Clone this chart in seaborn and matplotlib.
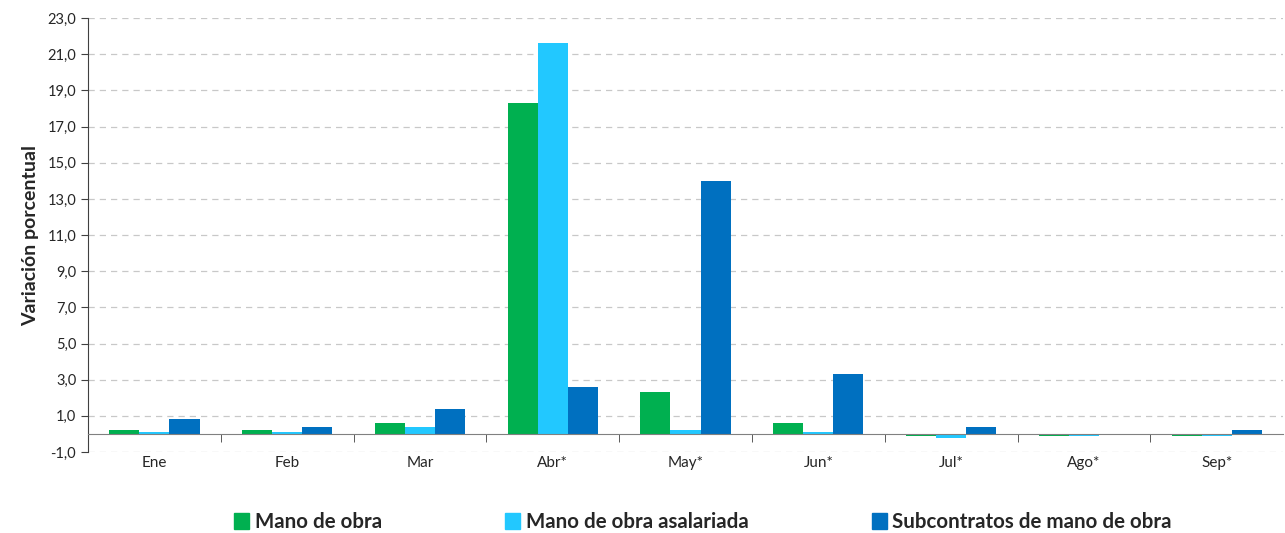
import pandas as pd
import numpy as np
import seaborn as sns
import matplotlib.pyplot as plt
import matplotlib.ticker as mticker

meses = ['Ene', 'Feb', 'Mar', 'Abr*', 'May*', 'Jun*', 'Jul*', 'Ago*', 'Sep*']
mano_obra = [0.2, 0.2, 0.6, 18.3, 2.3, 0.6, -0.1, -0.1, -0.1]
mano_obra_asal = [0.1, 0.1, 0.4, 21.6, 0.2, 0.1, -0.2, -0.1, -0.1]
subcontratos = [0.8, 0.4, 1.4, 2.6, 14.0, 3.3, 0.4, 0.0, 0.2]

series = ['Mano de obra', 'Mano de obra asalariada', 'Subcontratos de mano de obra']
colores = ['#00B050', '#22C8FF', '#0070C0']

df = pd.DataFrame({
    'Mes': meses * 3,
    'Serie': [series[0]] * 9 + [series[1]] * 9 + [series[2]] * 9,
    'Valor': mano_obra + mano_obra_asal + subcontratos,
})

sns.set_style('white')
plt.rcParams['font.family'] = ['Lato', 'DejaVu Sans']

fig = plt.figure(figsize=(12.85, 5.33), dpi=100)
ax = fig.add_axes([0.0685, 0.152, 0.93, 0.814])

sns.barplot(data=df, x='Mes', y='Valor', hue='Serie', hue_order=series,
            palette=colores, width=0.68, saturation=1, linewidth=0, ax=ax, legend=True)

ax.set_ylim(-1, 23)
ax.set_xlim(-0.5, 8.5)
ax.yaxis.set_major_locator(mticker.FixedLocator(np.arange(-1, 24, 2)))
ax.yaxis.set_major_formatter(mticker.FuncFormatter(lambda v, p: f'{v:.1f}'.replace('.', ',')))
ax.grid(axis='y', linestyle=(0, (5, 4)), color='#c8c8c8', linewidth=0.9)
ax.set_axisbelow(True)

for s in ['top', 'right']:
    ax.spines[s].set_visible(False)
ax.spines['left'].set_color('#404040')
ax.spines['bottom'].set_position(('data', 0))
ax.spines['bottom'].set_color('#808080')

ax.tick_params(axis='y', direction='out', length=5, color='#404040', labelsize=10.5, left=True)
ax.set_xticks(np.arange(0.5, 8.5, 1), minor=True)
ax.tick_params(axis='x', which='minor', direction='out', length=6, color='#404040', bottom=True)
ax.tick_params(axis='x', which='major', length=0, pad=16, labelsize=11)

ax.set_xlabel('')
ax.set_ylabel('Variación porcentual', fontsize=14, fontweight='bold', labelpad=6)

ax.legend_.remove()
handles = [plt.Rectangle((0, 0), 1, 1, color=c) for c in colores]
leg = fig.legend(handles, series, loc='center', bbox_to_anchor=(0.547, 0.02), ncol=3,
                 frameon=False, handlelength=0.75, handleheight=0.85, handletextpad=0.25,
                 columnspacing=6.0, prop={'weight': 'bold', 'size': 14.8})

fig.savefig('out.png', dpi=100)
